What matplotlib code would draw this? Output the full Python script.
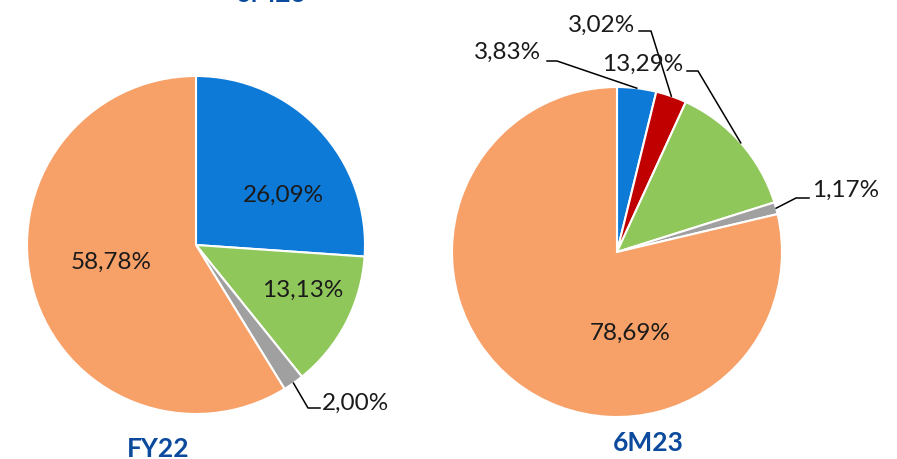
import numpy as np
import matplotlib.pyplot as plt

W, H = 897, 460

# data
fy22_labels = ["26,09%", "13,13%", "2,00%", "58,78%"]
fy22_values = [26.09, 13.13, 2.00, 58.78]
fy22_colors = ["#0E7AD8", "#8FC75A", "#A0A0A0", "#F7A068"]

m623_labels = ["3,83%", "3,02%", "13,29%", "1,17%", "78,69%"]
m623_values = [3.83, 3.02, 13.29, 1.17, 78.69]
m623_colors = ["#0E7AD8", "#C00000", "#8FC75A", "#A0A0A0", "#F7A068"]

plt.rcParams['font.family'] = ['Lato', 'DejaVu Sans']
title_color = "#0B4A9C"

fig = plt.figure(figsize=(W / 100, H / 100), dpi=100)


def fx(x, y):
    return (x / W, 1 - y / H)


def pie_axes(cx, cy, r):
    ax = fig.add_axes([(cx - r) / W, (H - cy - r) / H, 2 * r / W, 2 * r / H])
    return ax


def draw_pie(ax, values, colors):
    wedges, _ = ax.pie(values, colors=colors, startangle=90, counterclock=False,
                       radius=1, wedgeprops=dict(edgecolor="white", linewidth=1.5))
    ax.set_xlim(-1, 1)
    ax.set_ylim(-1, 1)
    ax.set_aspect("auto")
    ax.axis("off")
    return wedges


def mid_point(w, rr=1.0):
    a = np.deg2rad((w.theta1 + w.theta2) / 2)
    return rr * np.cos(a), rr * np.sin(a)


# left pie
axL = pie_axes(196, 246, 169)
wL = draw_pie(axL, fy22_values, fy22_colors)
# right pie
axR = pie_axes(617, 253, 165)
wR = draw_pie(axR, m623_values, m623_colors)

fs = 17.5

# inside labels (pixel positions)
inside = [(fy22_labels[0], 283, 195), (fy22_labels[1], 303, 290),
          (fy22_labels[3], 111, 262), (m623_labels[4], 630, 333)]
for txt, x, y in inside:
    fig.text(*fx(x, y), txt, ha="center", va="center", fontsize=fs, color="#1a1a1a")

# outside labels with leader lines: (axes, wedge, label, text x, text y, ha, elbow pts)
outside = [
    (axL, wL[2], fy22_labels[2], 322, 403, "left", [(320, 409), (308, 409)]),
    (axR, wR[0], m623_labels[0], 541, 52, "right", [(547, 62), (557, 62)]),
    (axR, wR[1], m623_labels[1], 635, 25, "right", [(639, 32), (651, 32)]),
    (axR, wR[2], m623_labels[2], 683, 64, "right", [(687, 72), (698, 72)]),
    (axR, wR[3], m623_labels[3], 812, 190, "left", [(809, 199), (796, 199)]),
]
for ax, w, txt, tx, ty, ha, elbow in outside:
    fig.text(*fx(tx, ty), txt, ha=ha, va="center", fontsize=fs, color="#1a1a1a")
    anchor = fig.transFigure.inverted().transform(ax.transData.transform(mid_point(w)))
    pts = [fx(x, y) for x, y in elbow] + [tuple(anchor)]
    xs, ys = zip(*pts)
    fig.add_artist(plt.Line2D(xs, ys, transform=fig.transFigure, color="black", lw=1.1))

# titles
fig.text(*fx(158, 449), "FY22", ha="center", va="center", fontsize=19,
         fontweight="bold", color=title_color)
fig.text(*fx(648, 443), "6M23", ha="center", va="center", fontsize=19,
         fontweight="bold", color=title_color)
# cut-off title at the top
fig.text(*fx(271, 1.5), "6M23", ha="center", va="baseline", fontsize=19,
         fontweight="bold", color=title_color)

fig.savefig("out.png", dpi=100)
